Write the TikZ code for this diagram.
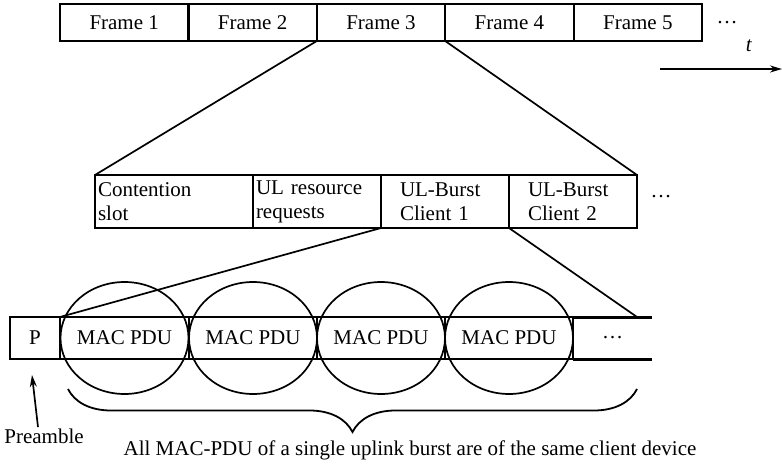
\documentclass[tikz,border=0pt]{standalone}
\usepackage{fontspec}
\setmainfont{Liberation Serif}
\usetikzlibrary{arrows.meta,decorations.pathreplacing,positioning}
\begin{document}
\begin{tikzpicture}[x=1pt,y=-1pt,
  every node/.style={font=\fontsize{21}{24}\selectfont},
  framebox/.style={draw, line width=2.2pt, minimum width=128.4pt, minimum height=37pt, inner sep=0pt, outer sep=0pt},
  midbox/.style={draw, line width=2.2pt, minimum height=53pt, inner ysep=0pt, outer sep=0pt, align=left},
  cell/.style={draw, line width=1.6pt, minimum height=42pt, inner sep=0pt, outer sep=0pt},
  link/.style={line width=1.7pt},
  pdu/.style={line width=1.7pt},
  arr/.style={line width=1.7pt, -{Stealth[length=12pt,width=7pt]}},
  bracestyle/.style={line width=1.8pt, decorate, decoration={brace, mirror, amplitude=43pt}}
]
\useasboundingbox (0,0) rectangle (782,465);

% top frame row
\node[framebox] (f1) at (124.2,22.5) {Frame 1};
\node[framebox, right=0pt of f1] (f2) {Frame 2};
\node[framebox, right=0pt of f2] (f3) {Frame 3};
\node[framebox, right=0pt of f3] (f4) {Frame 4};
\node[framebox, right=0pt of f4] (f5) {Frame 5};
\node (tdots) at (727,23) {\ldots};
\node (tlabel) at (749,46) {\textit{t}};
\coordinate (tstart) at (660,69);
\coordinate (tend) at (782,69);
\draw[arr] (tstart) -- (tend);

% middle row
\node[midbox, inner xsep=3pt, text width=152pt] (cs) at (174,201.5) {Contention\\slot};
\node[midbox, inner xsep=3pt, text width=122pt, right=0pt of cs] (ul) {UL resource\\requests};
\node[midbox, inner xsep=19pt, text width=90pt, right=0pt of ul] (u1) {UL-Burst\\Client 1};
\node[midbox, inner xsep=19pt, text width=90pt, right=0pt of u1] (u2) {UL-Burst\\Client 2};
\node (mdots) at (661,197) {\ldots};

\draw[link] (f3.south west) -- (cs.north west);
\draw[link] (f3.south east) -- (u2.north east);

% bottom row
\node[cell, minimum width=50pt] (p) at (35,338) {P};
\node[cell, minimum width=129pt, right=0pt of p] (m1) {MAC PDU};
\node[cell, minimum width=128pt, right=0pt of m1] (m2) {MAC PDU};
\node[cell, minimum width=128pt, right=0pt of m2] (m3) {MAC PDU};
\node[cell, minimum width=128pt, right=0pt of m3] (m4) {MAC PDU};
\node[minimum width=79pt, minimum height=42pt, inner sep=0pt, outer sep=0pt, right=0pt of m4] (bdots) {\ldots};
\draw[line width=3pt] (bdots.north west) -- (bdots.north east);
\draw[line width=3pt] (bdots.south west) -- (bdots.south east);

\foreach \m in {m1,m2,m3,m4}
  \draw[pdu] (\m.center) ellipse [x radius=64pt, y radius=56pt];

\coordinate (ecorner) at (637,317);
\draw[link] (u1.south west) -- (m1.north west);
\draw[link] (u1.south east) -- (ecorner);

% preamble
\node (pre) at (44,436) {Preamble};
\coordinate (ptip) at (32,375);
\draw[arr] ([xshift=-6pt,yshift=-2pt]pre.north) -- (ptip);

% brace
\coordinate (bl) at (68,389);
\coordinate (br) at (637,389);
\draw[bracestyle] (bl) -- (br);
\node (note) at (410,450) {All MAC-PDU of a single uplink burst are of the same client device};
\end{tikzpicture}
\end{document}
